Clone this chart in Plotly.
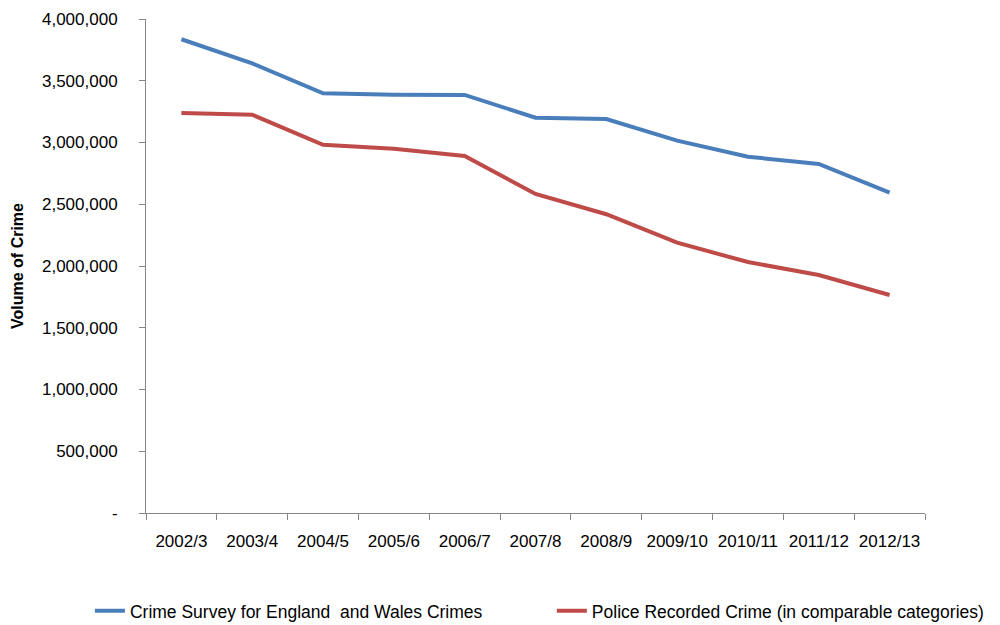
import plotly.graph_objects as go

years = ["2002/3", "2003/4", "2004/5", "2005/6", "2006/7", "2007/8",
         "2008/9", "2009/10", "2010/11", "2011/12", "2012/13"]
csew = [3836000, 3641000, 3398000, 3387000, 3385000, 3201000,
        3190000, 3015000, 2885000, 2826000, 2594000]
police = [3239000, 3225000, 2982000, 2950000, 2891000, 2583000,
          2419000, 2189000, 2032000, 1927000, 1765000]
y_ticks = [0, 500000, 1000000, 1500000, 2000000, 2500000, 3000000, 3500000, 4000000]
y_labels = ["-", "500,000", "1,000,000", "1,500,000", "2,000,000",
            "2,500,000", "3,000,000", "3,500,000", "4,000,000"]

font_family = "Liberation Sans, Arial, sans-serif"

fig = go.Figure()
fig.add_trace(go.Scatter(x=years, y=csew, mode="lines",
                         name="Crime Survey for England  and Wales Crimes",
                         line=dict(color="#4A7EBB", width=4), legend="legend"))
fig.add_trace(go.Scatter(x=years, y=police, mode="lines",
                         name="Police Recorded Crime (in comparable categories)",
                         line=dict(color="#BE4B48", width=4), legend="legend2"))

legend_common = dict(orientation="h", yanchor="middle", y=-0.198, xanchor="left",
                     font=dict(size=17.5), bgcolor="rgba(0,0,0,0)")

fig.update_layout(
    width=1000, height=625,
    margin=dict(l=138, r=83, t=11, b=120, autoexpand=False),
    paper_bgcolor="white", plot_bgcolor="white",
    font=dict(family=font_family, size=17, color="black"),
    showlegend=True,
    legend=dict(x=-0.072, **legend_common),
    legend2=dict(x=0.521, **legend_common),
    xaxis=dict(type="category", range=[-0.5, 10.5], tickson="boundaries",
               ticks="outside", ticklen=6, tickcolor="#868686",
               showline=True, linecolor="#868686", linewidth=1,
               showgrid=False, zeroline=False, ticklabelstandoff=13,
               automargin=False),
    yaxis=dict(range=[0, 4000000], tickvals=y_ticks, ticktext=y_labels,
               ticks="outside", ticklen=6, tickcolor="#868686",
               showline=True, linecolor="#868686", linewidth=1,
               showgrid=False, zeroline=False, ticklabelstandoff=18,
               automargin=False,
               title=dict(text="<b>Volume of Crime</b>", font=dict(size=16), standoff=14)),
)

fig.write_html("out.html")
